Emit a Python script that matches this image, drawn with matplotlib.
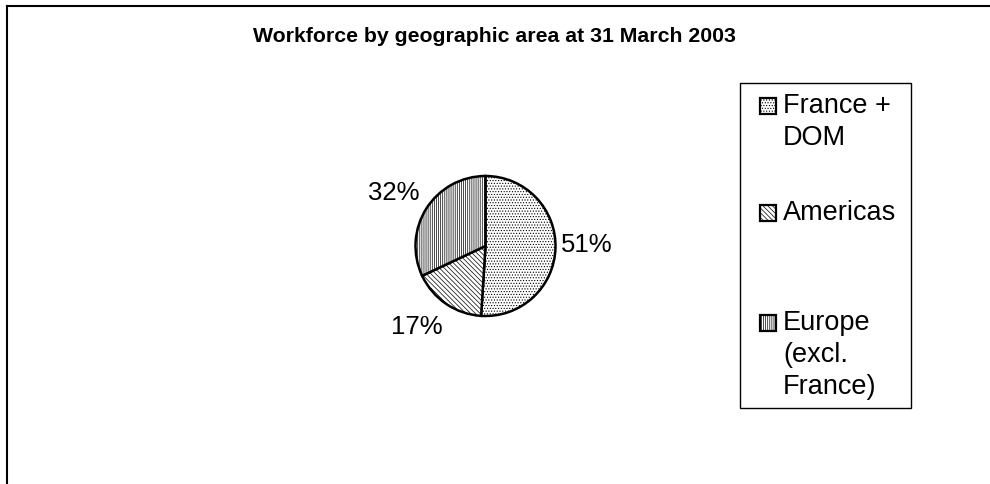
import matplotlib
matplotlib.use("Agg")
import matplotlib.pyplot as plt
from matplotlib.patches import Rectangle
from matplotlib.lines import Line2D

plt.rcParams['font.family'] = ['Liberation Sans', 'DejaVu Sans']
plt.rcParams['hatch.linewidth'] = 0.5

TITLE = "Workforce by geographic area at 31 March 2003"
regions = ["France +\nDOM", "Americas", "Europe\n(excl.\nFrance)"]
shares = [51, 17, 32]
hatches = ["......", "\\\\\\\\\\\\\\", "||||||||"]

W, H = 990, 484
fig = plt.figure(figsize=(W / 100, H / 100), dpi=100)

# outer frame: top and left edges only
fig.add_artist(Line2D([7 / W, 1], [1 - 6 / H, 1 - 6 / H], color="black", lw=1.5))
fig.add_artist(Line2D([7 / W, 7 / W], [0, 1 - 6 / H], color="black", lw=1.5))

fig.text(494 / W, 1 - 36 / H, TITLE, ha="center", va="center",
         fontsize=15.3, fontweight="bold")

# pie axes centred at (485, 246) px with radius 70 px
cx, cy, r = 485.5, 246, 70
ax = fig.add_axes([(cx - r) / W, 1 - (cy + r) / H, 2 * r / W, 2 * r / H])
wedges, _, pcts = ax.pie(shares, startangle=90, counterclock=False,
                         autopct="%d%%", colors=["white"] * 3,
                         wedgeprops=dict(edgecolor="black", linewidth=1.8),
                         textprops=dict(fontsize=18.5))
for w, h in zip(wedges, hatches):
    w.set_hatch(h)
ax.set_xlim(-1, 1)
ax.set_ylim(-1, 1)
ax.set_aspect("equal")

# percentage labels outside the wedges
label_px = [(587, 245), (417, 327), (394, 193)]
for t, (px, py) in zip(pcts, label_px):
    t.set_position(((px - cx) / r, (cy - py) / r))
    t.set_ha("center")
    t.set_va("center")
    t.set_clip_on(False)

# legend box
fig.add_artist(Rectangle((740 / W, 1 - 408 / H), 171 / W, 325 / H,
                         transform=fig.transFigure, fill=False,
                         edgecolor="black", lw=1.0))
line_h = 32
first_line = [106, 213, 323]
for lab, h, y0 in zip(regions, hatches, first_line):
    fig.add_artist(Rectangle((760 / W, 1 - (y0 + 8) / H), 16 / W, 16 / H,
                             transform=fig.transFigure, facecolor="white",
                             edgecolor="black", lw=1.6, hatch=h))
    for i, part in enumerate(lab.split("\n")):
        fig.text(783 / W, 1 - (y0 + i * line_h) / H, part,
                 ha="left", va="center", fontsize=19.5)

fig.savefig("out.png", dpi=100)
